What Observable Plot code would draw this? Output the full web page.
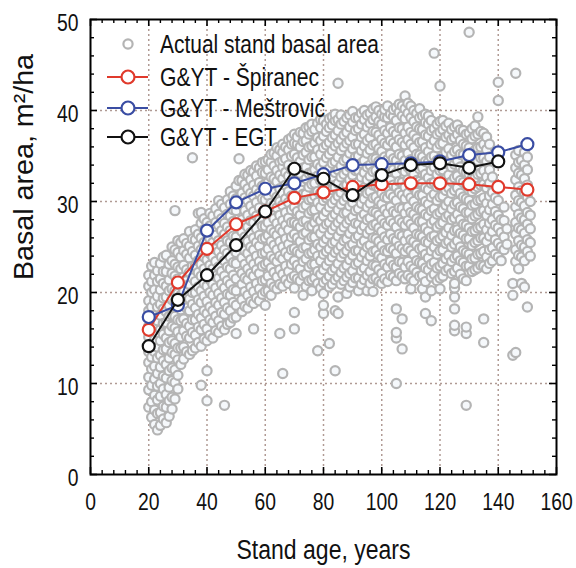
<!DOCTYPE html>
<html>
<head>
<meta charset="utf-8">
<script src="https://cdn.jsdelivr.net/npm/d3@7"></script>
<script src="https://cdn.jsdelivr.net/npm/@observablehq/plot@0.6"></script>
<style>
  html, body { margin: 0; padding: 0; background: #ffffff; }
  #chart { width: 576px; height: 568px; }
</style>
</head>
<body>
<div id="chart"></div>
<script>
// ---- Model curves (stand age classes) ----
const ageClasses = [20, 30, 40, 50, 60, 70, 80, 90, 100, 110, 120, 130, 140, 150];
const spiranec  = [15.9, 21.1, 24.8, 27.5, 28.9, 30.4, 31.0, 31.6, 31.9, 32.0, 32.0, 31.9, 31.6, 31.3];
const mestrovic = [17.3, 18.6, 26.8, 29.9, 31.4, 32.0, 33.0, 34.0, 34.1, 34.2, 34.4, 35.1, 35.4, 36.3];
const egtAges   = [20, 30, 40, 50, 60, 70, 80, 90, 100, 110, 120, 130, 140];
const egt       = [14.1, 19.2, 21.9, 25.2, 28.9, 33.6, 32.5, 30.7, 32.9, 34.0, 34.2, 33.7, 34.4];

// ---- Axis tick labels ----
const xTicks = [0, 20, 40, 60, 80, 100, 120, 140, 160];
const yTicks = [0, 10, 20, 30, 40, 50];

// ---- Actual stand basal area: [age, [basal areas]] ----
const actualStands = [
  [20, [7.4, 9.3, 10.7, 12.3, 13.5, 15.1, 16.3, 18.0, 19.1, 20.7, 21.9]],
  [21, [6.3, 8.0, 9.8, 11.6, 12.9, 14.4, 15.7, 17.3, 18.4, 20.0, 21.2, 22.9]],
  [22, [5.5, 7.1, 8.7, 10.5, 11.9, 13.5, 14.8, 16.4, 17.5, 19.1, 20.3, 21.9, 23.3]],
  [23, [4.9, 6.7, 8.2, 9.7, 11.1, 12.8, 14.0, 15.6, 16.9, 18.4, 19.6, 21.2, 22.4]],
  [24, [5.4, 6.8, 8.6, 10.0, 11.8, 13.1, 14.7, 15.9, 17.5, 18.7, 20.3, 21.5, 23.2]],
  [25, [6.1, 7.5, 9.4, 10.8, 12.5, 13.7, 15.4, 16.6, 18.2, 19.4, 21.0, 22.3, 23.9]],
  [26, [5.7, 7.4, 8.8, 10.6, 12.1, 13.8, 15.0, 16.7, 17.9, 19.5, 20.7, 22.3, 24.1]],
  [27, [6.4, 8.1, 9.6, 11.4, 12.8, 14.5, 15.8, 17.4, 18.6, 20.2, 21.4, 23.1]],
  [28, [7.2, 8.5, 10.3, 11.7, 13.4, 14.7, 16.3, 17.5, 19.2, 20.4, 22.1, 23.5, 25.0]],
  [29, [8.3, 10.1, 11.5, 13.2, 14.4, 16.1, 17.4, 19.0, 20.2, 21.8, 23.1, 24.7, 29.0]],
  [30, [9.4, 10.9, 12.6, 13.9, 15.7, 17.0, 18.7, 19.9, 21.5, 22.8, 24.4, 25.7]],
  [31, [12.1, 13.9, 15.1, 16.9, 18.1, 19.7, 21.0, 22.6, 23.9, 25.5]],
  [32, [12.7, 14.0, 15.8, 17.1, 18.8, 20.1, 21.7, 23.0, 24.6, 25.9]],
  [33, [13.5, 15.2, 16.6, 18.3, 19.6, 21.3, 22.5, 24.2, 25.4]],
  [34, [13.2, 15.0, 16.3, 18.0, 19.3, 20.9, 22.2, 23.8, 25.1, 26.7]],
  [35, [13.6, 15.6, 17.0, 18.7, 20.0, 21.6, 22.9, 24.5, 25.9, 34.8]],
  [36, [13.9, 15.3, 17.0, 18.3, 20.0, 21.2, 22.9, 24.1, 25.8, 26.9]],
  [37, [14.5, 16.2, 17.6, 19.2, 20.6, 22.2, 23.5, 25.1, 26.4, 28.7]],
  [38, [9.8, 14.1, 15.9, 17.2, 18.9, 20.2, 21.8, 23.1, 24.7, 26.0, 27.6, 28.8]],
  [39, [14.9, 16.5, 18.0, 19.6, 21.0, 22.6, 23.9, 25.5, 26.9, 28.1]],
  [40, [8.1, 11.4, 14.7, 16.0, 17.7, 19.0, 20.7, 21.9, 23.6, 24.9, 26.5, 27.7]],
  [41, [15.3, 17.0, 18.4, 20.0, 21.4, 23.0, 24.3, 25.9, 27.3, 28.7]],
  [42, [15.0, 16.7, 18.0, 19.7, 20.9, 22.6, 23.9, 25.5, 26.8, 28.4]],
  [43, [15.8, 17.4, 18.9, 20.5, 21.8, 23.4, 24.8, 26.3, 27.7, 29.2]],
  [44, [15.6, 16.9, 18.6, 19.9, 21.6, 22.8, 24.5, 25.7, 27.4, 28.6, 30.1]],
  [45, [16.3, 17.8, 19.4, 20.9, 22.3, 23.9, 25.2, 26.8, 28.1, 29.7]],
  [46, [7.6, 15.9, 17.6, 18.9, 20.5, 21.8, 23.5, 24.7, 26.4, 27.6, 29.3]],
  [47, [16.5, 18.3, 19.8, 21.3, 22.8, 24.3, 25.7, 27.2, 28.6, 30.2]],
  [48, [16.7, 18.0, 19.7, 20.9, 22.6, 23.9, 25.5, 26.8, 28.4, 29.7, 31.1]],
  [49, [17.2, 18.9, 20.3, 21.9, 23.3, 24.9, 26.2, 27.8, 29.1, 30.6]],
  [50, [15.5, 17.3, 18.6, 20.2, 21.5, 23.2, 24.4, 26.1, 27.4, 29.0, 30.3, 31.7]],
  [51, [32.3, 34.7]],
  [52, [17.9, 19.2, 20.9, 22.1, 23.8, 25.1, 26.7, 28.0, 29.6, 30.9, 32.3]],
  [53, [18.5, 20.1, 21.6, 23.1, 24.6, 26.1, 27.5, 29.0, 30.4, 31.9, 33.0]],
  [54, [18.3, 19.7, 21.4, 22.6, 24.3, 25.6, 27.2, 28.5, 30.1, 31.4, 32.9]],
  [55, [19.0, 20.6, 22.1, 23.6, 25.0, 26.6, 27.9, 29.5, 30.9, 32.4, 33.4]],
  [56, [16.0, 18.8, 20.1, 21.8, 23.1, 24.7, 26.0, 27.7, 28.9, 30.6, 31.8, 33.3]],
  [57, [19.4, 21.0, 22.5, 24.0, 25.5, 27.0, 28.4, 29.9, 31.3, 32.8, 33.9]],
  [58, [19.1, 20.4, 22.1, 23.4, 25.1, 26.3, 28.0, 29.3, 30.9, 32.1, 33.7]],
  [59, [19.8, 21.3, 22.9, 24.3, 25.9, 27.3, 28.8, 30.3, 31.7, 33.2, 34.3]],
  [60, [18.6, 20.1, 21.4, 23.1, 24.4, 26.0, 27.3, 29.0, 30.2, 31.9, 33.1, 34.4]],
  [61, [20.2, 21.8, 23.3, 24.8, 26.3, 27.7, 29.2, 30.7, 32.1, 33.5, 34.6]],
  [62, [19.7, 21.0, 22.7, 24.0, 25.6, 26.9, 28.6, 29.8, 31.5, 32.7, 34.3, 35.2]],
  [63, [20.6, 22.2, 23.7, 25.2, 26.6, 28.1, 29.6, 31.0, 32.5, 33.9, 35.3]],
  [64, [20.4, 21.7, 23.4, 24.7, 26.3, 27.6, 29.3, 30.5, 32.2, 33.4, 35.0, 35.9]],
  [65, [15.5, 20.9, 22.5, 24.0, 25.6, 27.0, 28.5, 30.0, 31.4, 32.9, 34.3, 35.7]],
  [66, [11.1, 20.7, 22.0, 23.7, 25.0, 26.7, 27.9, 29.6, 30.9, 32.5, 33.8, 34.5, 35.4, 36.3]],
  [67, [21.4, 22.9, 24.4, 25.9, 27.4, 28.8, 30.3, 31.8, 33.2, 34.7, 36.0]],
  [68, [21.0, 22.3, 24.0, 25.3, 26.9, 28.2, 29.9, 31.1, 32.8, 34.0, 35.7, 36.8]],
  [69, [21.6, 23.1, 24.7, 26.1, 27.7, 29.1, 30.6, 32.0, 33.5, 35.0, 36.3, 37.0]],
  [70, [16.0, 17.8, 20.5, 21.8, 23.5, 24.8, 26.4, 27.7, 29.4, 30.6, 32.3, 33.6, 35.2, 36.4, 37.4]],
  [71, [21.5, 23.0, 24.5, 26.0, 27.5, 28.9, 30.4, 31.9, 33.4, 34.8, 36.3, 37.1]],
  [72, [21.3, 22.6, 24.3, 25.6, 27.2, 28.5, 30.2, 31.4, 33.1, 34.4, 36.0, 37.6]],
  [73, [19.7, 21.9, 23.4, 24.9, 26.4, 27.8, 29.3, 30.8, 32.2, 33.7, 35.1, 36.6, 37.5]],
  [74, [20.7, 22.0, 23.7, 25.0, 26.6, 27.9, 29.6, 30.8, 32.5, 33.8, 35.4, 36.7, 38.1]],
  [75, [21.3, 22.8, 24.3, 25.8, 27.3, 28.7, 30.2, 31.6, 33.1, 34.6, 36.0, 37.4, 38.2]],
  [76, [20.2, 21.4, 23.1, 24.4, 26.1, 27.3, 29.0, 30.3, 31.9, 33.2, 34.9, 36.1, 37.7, 38.5]],
  [77, [21.6, 23.1, 24.7, 26.1, 27.7, 29.1, 30.6, 32.0, 33.5, 34.9, 36.4, 37.9]],
  [78, [13.6, 21.0, 22.3, 24.0, 25.3, 26.9, 28.2, 29.9, 31.1, 32.8, 34.1, 35.7, 37.0, 38.6]],
  [79, [20.5, 22.0, 23.5, 25.0, 26.5, 27.9, 29.4, 30.9, 32.3, 33.8, 35.2, 36.7, 38.1, 39.0]],
  [80, [17.7, 18.6, 19.9, 21.1, 22.5, 24.2, 25.5, 27.1, 28.4, 30.1, 31.3, 33.0, 34.3, 35.9, 37.2, 38.9]],
  [81, [21.4, 23.0, 24.5, 25.9, 27.5, 28.9, 30.4, 31.8, 33.3, 34.8, 36.2, 37.7, 38.5]],
  [82, [14.4, 20.6, 21.8, 23.5, 24.8, 26.4, 27.7, 29.4, 30.6, 32.3, 33.6, 35.2, 36.5, 38.1, 39.1]],
  [83, [20.9, 22.4, 23.9, 25.4, 26.9, 28.3, 29.8, 31.3, 32.7, 34.2, 35.6, 37.0, 38.4, 39.3]],
  [84, [11.4, 18.0, 21.4, 22.7, 24.4, 25.6, 27.3, 28.6, 30.2, 31.5, 33.2, 34.4, 36.1, 37.3, 38.9, 39.6]],
  [85, [17.7, 19.5, 21.7, 23.2, 24.7, 26.2, 27.7, 29.1, 30.6, 32.0, 33.5, 34.9, 36.4, 37.8, 39.0, 43.0]],
  [86, [20.9, 22.2, 23.9, 25.1, 26.8, 28.1, 29.7, 31.0, 32.7, 33.9, 35.6, 36.8, 38.5, 39.5]],
  [87, [21.3, 22.7, 24.3, 25.7, 27.2, 28.7, 30.1, 31.6, 33.0, 34.5, 36.0, 37.3, 38.8]],
  [88, [19.9, 21.7, 23.0, 24.6, 25.9, 27.6, 28.8, 30.5, 31.8, 33.4, 34.7, 36.4, 37.6, 39.2]],
  [89, [20.6, 22.1, 23.6, 25.1, 26.5, 28.0, 29.5, 30.9, 32.4, 33.8, 35.3, 36.7, 38.2, 39.5]],
  [90, [21.1, 22.4, 24.1, 25.3, 27.0, 28.3, 29.9, 31.2, 32.9, 34.1, 35.8, 37.1, 38.7, 39.9]],
  [91, [21.6, 23.1, 24.6, 26.0, 27.6, 29.0, 30.5, 31.9, 33.4, 34.9, 36.3, 37.8, 39.2]],
  [92, [20.2, 21.6, 23.3, 24.6, 26.2, 27.5, 29.2, 30.4, 32.1, 33.4, 35.0, 36.3, 38.0, 39.2]],
  [93, [20.9, 22.4, 23.9, 25.4, 26.9, 28.3, 29.8, 31.3, 32.7, 34.2, 35.6, 37.1, 38.5, 39.7]],
  [94, [21.4, 22.7, 24.4, 25.7, 27.3, 28.6, 30.3, 31.5, 33.2, 34.5, 36.1, 37.4, 39.0, 40.0]],
  [95, [20.2, 21.9, 23.5, 25.0, 26.5, 28.0, 29.4, 30.9, 32.4, 33.8, 35.3, 36.7, 38.2, 39.5]],
  [96, [21.0, 22.3, 24.0, 25.2, 26.9, 28.2, 29.8, 31.1, 32.8, 34.0, 35.7, 37.0, 38.6, 39.7]],
  [97, [20.1, 21.5, 23.0, 24.5, 26.0, 27.4, 28.9, 30.4, 31.8, 33.3, 34.7, 36.2, 37.7, 39.0, 40.2]],
  [98, [21.6, 22.9, 24.6, 25.9, 27.5, 28.8, 30.5, 31.7, 33.4, 34.7, 36.3, 37.6, 39.3, 40.4]],
  [99, [21.2, 22.5, 24.1, 25.6, 27.1, 28.5, 30.0, 31.5, 32.9, 34.4, 35.8, 37.3, 38.8, 40.0]],
  [100, [21.0, 22.1, 23.8, 25.1, 26.7, 28.0, 29.7, 30.9, 32.6, 33.9, 35.5, 36.8, 38.5, 39.6]],
  [101, [21.5, 23.1, 24.6, 26.1, 27.6, 29.1, 30.5, 32.0, 33.5, 34.9, 36.4, 37.8, 39.3, 40.1]],
  [102, [21.2, 22.8, 24.5, 25.8, 27.4, 28.7, 30.4, 31.6, 33.3, 34.6, 36.2, 37.5, 39.2, 40.5]],
  [103, [21.9, 23.4, 24.9, 26.4, 27.9, 29.4, 30.8, 32.3, 33.8, 35.2, 36.7, 38.1, 39.6]],
  [104, [21.7, 23.0, 24.7, 25.9, 27.6, 28.9, 30.5, 31.8, 33.5, 34.7, 36.4, 37.7, 39.3, 40.1]],
  [105, [10.0, 15.0, 15.6, 18.2, 21.3, 22.8, 24.3, 25.7, 27.2, 28.7, 30.1, 31.6, 33.1, 34.5, 36.0, 37.4, 38.9, 40.3]],
  [106, [22.1, 23.4, 25.1, 26.4, 28.0, 29.3, 31.0, 32.2, 33.9, 35.2, 36.8, 38.1, 39.8, 40.7]],
  [107, [13.8, 17.1, 21.8, 23.3, 24.8, 26.2, 27.7, 29.2, 30.7, 32.1, 33.6, 35.0, 36.5, 38.0, 39.4, 40.5]],
  [108, [21.5, 22.8, 24.5, 25.7, 27.4, 28.7, 30.3, 31.6, 33.3, 34.5, 36.2, 37.5, 39.1, 40.2, 41.6]],
  [109, [21.9, 23.4, 24.9, 26.4, 27.9, 29.4, 30.9, 32.4, 33.8, 35.3, 36.8, 38.2, 39.7, 40.8]],
  [110, [20.4, 21.6, 22.9, 24.6, 25.8, 27.5, 28.8, 30.4, 31.7, 33.4, 34.6, 36.3, 37.6, 39.2, 40.5]],
  [111, [21.3, 22.6, 24.2, 25.6, 27.1, 28.6, 30.0, 31.5, 33.0, 34.4, 35.9, 37.3, 38.8, 40.0]],
  [112, [22.2, 23.5, 25.2, 26.4, 28.1, 29.4, 31.0, 32.3, 34.0, 35.2, 36.9, 38.2, 39.7]],
  [113, [21.8, 23.3, 24.8, 26.3, 27.8, 29.2, 30.7, 32.2, 33.6, 35.1, 36.5, 38.0, 39.2, 40.2]],
  [114, [20.4, 21.9, 23.2, 24.9, 26.1, 27.8, 29.1, 30.7, 32.0, 33.7, 34.9, 36.6, 37.9, 39.4]],
  [115, [17.7, 19.5, 21.2, 22.7, 24.2, 25.6, 27.1, 28.6, 30.0, 31.5, 33.0, 34.4, 35.9, 37.3, 38.7, 39.6]],
  [116, [22.5, 23.8, 25.5, 26.7, 28.4, 29.7, 31.3, 32.6, 34.3, 35.5, 37.2, 38.5, 39.4]],
  [117, [16.9, 20.2, 21.7, 23.1, 24.6, 26.1, 27.6, 29.0, 30.5, 32.0, 33.4, 34.9, 36.3, 37.8, 38.9]],
  [118, [22.0, 23.3, 25.0, 26.2, 27.9, 29.2, 30.8, 32.1, 33.8, 35.0, 36.7, 38.0, 46.3]],
  [119, [21.3, 22.7, 24.2, 25.7, 27.2, 28.6, 30.1, 31.6, 33.0, 34.5, 35.9, 37.4, 38.5]],
  [120, [20.4, 21.6, 22.9, 24.6, 25.9, 27.5, 28.8, 30.5, 31.7, 33.4, 34.7, 36.3, 37.6, 38.8, 42.7]],
  [121, [21.8, 23.2, 24.7, 26.2, 27.7, 29.1, 30.6, 32.1, 33.5, 35.0, 36.4, 37.9, 38.9]],
  [122, [22.4, 23.7, 25.4, 26.6, 28.3, 29.6, 31.2, 32.5, 34.2, 35.4, 37.1, 38.3]],
  [123, [22.6, 24.1, 25.6, 27.1, 28.5, 30.0, 31.5, 32.9, 34.4, 35.8, 37.3, 38.6]],
  [124, [22.1, 23.4, 25.0, 26.3, 28.0, 29.2, 30.9, 32.2, 33.8, 35.1, 36.8, 37.9]],
  [125, [15.8, 16.4, 18.2, 19.5, 20.5, 21.0, 22.3, 23.8, 25.3, 26.8, 28.2, 29.7, 31.2, 32.6, 34.1, 35.5, 37.0, 38.2]],
  [126, [22.7, 24.0, 25.7, 26.9, 28.6, 29.9, 31.5, 32.8, 34.5, 35.7, 37.4, 38.4]],
  [127, [22.0, 23.5, 25.0, 26.5, 28.0, 29.4, 30.9, 32.3, 33.8, 35.2, 36.7, 37.9]],
  [128, [21.5, 23.3, 24.6, 26.3, 27.5, 29.2, 30.5, 32.1, 33.4, 35.1, 36.3, 37.8]],
  [129, [7.6, 15.5, 16.2, 21.3, 22.9, 24.4, 25.9, 27.4, 28.8, 30.3, 31.8, 33.2, 34.7, 36.1, 37.4]],
  [130, [22.9, 24.2, 25.9, 27.1, 28.8, 30.1, 31.7, 33.0, 34.7, 35.9, 37.5, 48.6]],
  [131, [22.3, 23.7, 25.2, 26.7, 28.1, 29.6, 31.1, 32.5, 34.0, 35.4, 36.9, 38.0]],
  [132, [22.5, 23.8, 25.5, 26.8, 28.4, 29.7, 31.4, 32.6, 34.3, 35.6, 37.2, 38.3]],
  [133, [22.7, 24.2, 25.7, 27.1, 28.6, 30.1, 31.6, 33.0, 34.5, 35.9, 37.4, 39.3]],
  [134, [23.0, 24.3, 26.0, 27.2, 28.9, 30.2, 31.8, 33.1, 34.8, 36.0, 37.7]],
  [135, [14.5, 17.1, 22.9, 24.5, 26.0, 27.5, 29.0, 30.4, 31.9, 33.4, 34.8, 36.3, 37.5]],
  [136, [22.6, 23.9, 25.6, 26.9, 28.5, 29.8, 31.5, 32.7, 34.4, 35.7, 37.1]],
  [137, [23.2, 24.7, 26.2, 27.6, 29.1, 30.6, 32.0, 33.5, 34.9, 36.3]],
  [138, [23.5, 24.9, 26.7, 28.0, 29.7, 31.0, 32.7]],
  [139, [24.2, 25.8, 27.4, 28.9, 30.4]],
  [140, [23.9, 25.4, 27.1, 28.5, 30.1, 41.1, 43.1]],
  [141, [23.5, 25.0, 26.6, 28.0]],
  [142, [24.7, 26.1, 27.9, 29.4]],
  [143, [25.3, 27.0]],
  [145, [13.1, 19.7, 21.0]],
  [146, [13.4, 23.4, 24.7, 26.4, 27.7, 29.4, 30.7, 32.4, 33.7, 35.1, 44.1]],
  [147, [22.6, 24.1, 25.7, 27.1, 28.6, 30.1, 31.6, 33.1, 34.3, 35.6]],
  [148, [21.0, 23.9, 25.2, 26.9, 28.2, 29.9, 31.2, 32.9, 34.5]],
  [149, [20.6, 23.5, 25.0, 26.5, 28.0, 29.5, 31.0, 32.5, 34.0, 35.4]],
  [150, [18.4, 24.5, 25.8, 27.5, 28.8, 30.5, 31.8, 33.5, 34.9, 36.4]],
  [151, [24.0, 25.5, 27.0, 28.5, 30.0]]
];

// ---- Build tables ----
const actual = actualStands.flatMap(([age, vals]) => vals.map(v => ({age, ba: v})));
const spiranecData  = ageClasses.map((a, i) => ({age: a, ba: spiranec[i]}));
const mestrovicData = ageClasses.map((a, i) => ({age: a, ba: mestrovic[i]}));
const egtData       = egtAges.map((a, i) => ({age: a, ba: egt[i]}));

const FONT = "'Liberation Sans', Arial, sans-serif";
const W = 576, H = 568, ML = 90, MR = 20, MT = 19, MB = 94;
const FW = W - ML - MR, FH = H - MT - MB;

const RED = "#e03a2c", BLUE = "#3a4da3", BLACK = "#111111", GRAY = "#b4b4b4";
const GRID = "#b09a94";

const xMajor = xTicks;
const xMinor = d3.range(0, 161, 4).filter(v => v % 20 !== 0);
const yMajor = yTicks;
const yMinor = d3.range(0, 51, 2).filter(v => v % 10 !== 0);

const seriesMarks = (data, color) => [
  Plot.line(data, {x: "age", y: "ba", stroke: color, strokeWidth: 2}),
  Plot.dot(data, {x: "age", y: "ba", r: 6, stroke: color, strokeWidth: 2.2, fill: "white"})
];

const chart = Plot.plot({
  width: W, height: H,
  marginLeft: ML, marginRight: MR, marginTop: MT, marginBottom: MB,
  style: {fontFamily: FONT, background: "white", color: "black"},
  x: {domain: [0, 160]},
  y: {domain: [0, 50]},
  marks: [
    Plot.gridX(xMajor.filter(v => v > 0 && v < 160), {stroke: GRID, strokeOpacity: 1, strokeWidth: 1.5, strokeDasharray: "2,3"}),
    Plot.gridY(yMajor.filter(v => v > 0 && v < 50), {stroke: GRID, strokeOpacity: 1, strokeWidth: 1.5, strokeDasharray: "2,3"}),
    Plot.dot(actual, {x: "age", y: "ba", r: 4.6, stroke: GRAY, strokeWidth: 2.2, fill: "#f5f8fb"}),
    ...seriesMarks(spiranecData, RED),
    ...seriesMarks(mestrovicData, BLUE),
    ...seriesMarks(egtData, BLACK),
    // inward ticks on all four sides
    Plot.tickX(xMajor, {x: d => d, insetTop: FH - 7, stroke: "black", strokeWidth: 1.6}),
    Plot.tickX(xMinor, {x: d => d, insetTop: FH - 4, stroke: "black", strokeWidth: 1.4}),
    Plot.tickX(xMajor, {x: d => d, insetBottom: FH - 7, stroke: "black", strokeWidth: 1.6}),
    Plot.tickX(xMinor, {x: d => d, insetBottom: FH - 4, stroke: "black", strokeWidth: 1.4}),
    Plot.tickY(yMajor, {y: d => d, insetRight: FW - 7, stroke: "black", strokeWidth: 1.6}),
    Plot.tickY(yMinor, {y: d => d, insetRight: FW - 4, stroke: "black", strokeWidth: 1.4}),
    Plot.tickY(yMajor, {y: d => d, insetLeft: FW - 7, stroke: "black", strokeWidth: 1.6}),
    Plot.tickY(yMinor, {y: d => d, insetLeft: FW - 4, stroke: "black", strokeWidth: 1.4}),
    Plot.frame({stroke: "black", strokeWidth: 2}),
    Plot.axisX(xTicks, {tickSize: 0, tickPadding: 19, fontSize: 23, fontFamily: FONT, fill: "#111", label: null}),
    Plot.axisY(yTicks, {tickSize: 0, tickPadding: 12, fontSize: 23, fontFamily: FONT, fill: "#111", label: null, dy: 4}),
    Plot.text(["Stand age, years"], {frameAnchor: "bottom", dy: 84, fontSize: 27, fontFamily: FONT, fill: "#111"}),
    Plot.text(["Basal area, m\u00B2/ha"], {frameAnchor: "left", rotate: -90, dx: -66, dy: 33, fontSize: 27, fontFamily: FONT, fill: "#111"})
  ]
});

document.getElementById("chart").appendChild(chart);
const svg = d3.select(chart);

// Narrow the sans-serif texts the way the original condensed font looks
function fitWidth(el, target) {
  el.setAttribute("textLength", target);
  el.setAttribute("lengthAdjust", "spacingAndGlyphs");
}
svg.selectAll('g[aria-label="x-axis tick label"] text, g[aria-label="y-axis tick label"] text').each(function() {
  fitWidth(this, this.getComputedTextLength() * 0.84);
});
svg.selectAll('g[aria-label="text"] text').each(function() {
  const t = this.textContent;
  if (t.startsWith("Stand")) fitWidth(this, 174);
  else if (t.startsWith("Basal")) fitWidth(this, 226);
});

// ---- Legend (inside the plot, top-left) ----
const lg = svg.append("g").attr("font-family", FONT).attr("font-size", 25).attr("fill", "#111")
  .attr("text-anchor", "start");
const legendItems = [
  {label: "Actual stand basal area", color: GRAY, y: 44, line: false, w: 219},
  {label: "G&YT - \u0160piranec", color: RED, y: 77, line: true, w: 159},
  {label: "G&YT - Me\u0161trovi\u0107", color: BLUE, y: 108, line: true, w: 165},
  {label: "G&YT - EGT", color: BLACK, y: 137, line: true, w: 117}
];
legendItems.forEach(it => {
  if (it.line) {
    lg.append("line").attr("x1", 107).attr("x2", 148).attr("y1", it.y).attr("y2", it.y)
      .attr("stroke", it.color).attr("stroke-width", 2);
    lg.append("circle").attr("cx", 128).attr("cy", it.y).attr("r", 6.5)
      .attr("fill", "white").attr("stroke", it.color).attr("stroke-width", 2.2);
  } else {
    lg.append("circle").attr("cx", 128).attr("cy", it.y).attr("r", 4.6)
      .attr("fill", "white").attr("stroke", it.color).attr("stroke-width", 2.2);
  }
  const tx = lg.append("text").attr("x", 160).attr("y", it.y).attr("dy", "0.36em")
    .attr("text-anchor", "start").text(it.label);
  fitWidth(tx.node(), it.w);
});
</script>
</body>
</html>
